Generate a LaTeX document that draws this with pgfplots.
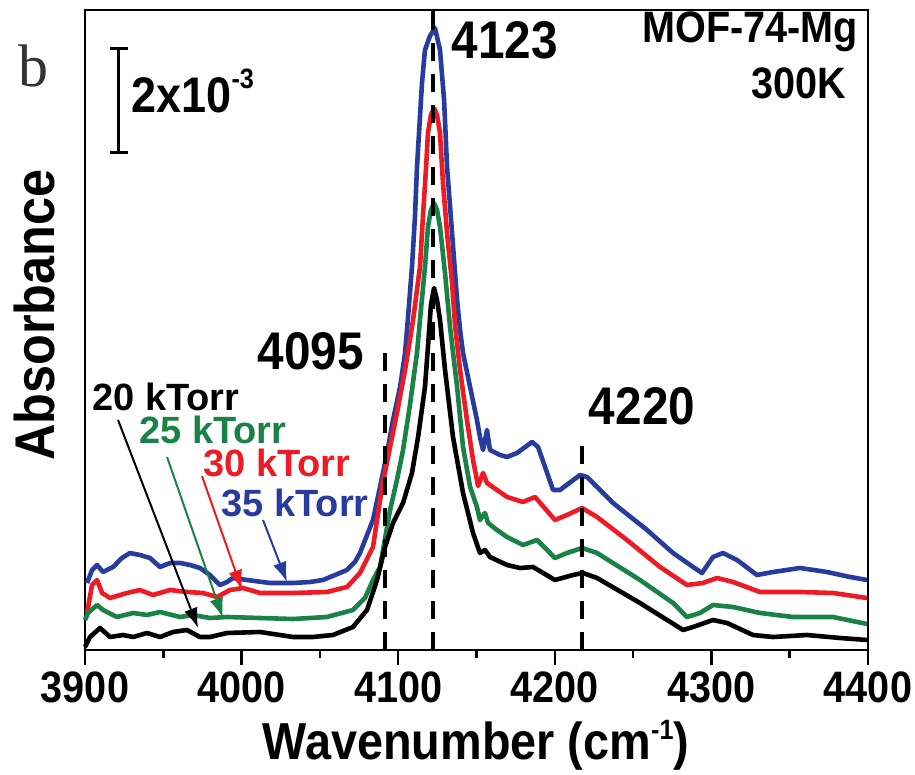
\documentclass[border=0pt]{standalone}
\usepackage{pgfplots}
\pgfplotsset{compat=1.18}
\usepackage{fontspec}
\setmainfont{Liberation Sans}
\newfontfamily\cond[FakeStretch=0.9]{Liberation Sans}
\newfontfamily\seriffont{Liberation Serif}
\usetikzlibrary{arrows.meta}
\definecolor{cblue}{RGB}{40,60,160}
\definecolor{cred}{RGB}{237,28,36}
\definecolor{cgreen}{RGB}{25,130,70}
\begin{document}
\begin{tikzpicture}
\useasboundingbox (-42.5pt,-62.5pt) rectangle (415pt,325pt);
\begin{axis}[
  at={(0,0)}, anchor=south west,
  scale only axis, width=391.5pt, height=320pt,
  xmin=3900, xmax=4400, ymin=0, ymax=640,
  xtick={3900,4000,...,4400}, minor x tick num=1,
  ytick=\empty,
  xtick pos=bottom,
  tick align=outside,
  major tick length=7.5pt, minor tick length=4pt,
  every tick/.style={line width=1.25pt, black},
  axis line style={line width=1.25pt},
  clip=false,
  /pgf/number format/assume math mode=true,
  /pgf/number format/1000 sep={},
  xticklabel style={font=\cond\bfseries\fontsize{22}{22}\selectfont, inner sep=0pt, anchor=north, yshift=-3pt},
  xlabel={Wavenumber (cm\raisebox{10pt}{\fontsize{14}{14}\selectfont -1})},
  xlabel style={font=\cond\bfseries\fontsize{26}{26}\selectfont, at={(axis cs:4149.7,-95)}, anchor=center},
  ylabel={Absorbance},
  ylabel style={font=\cond\bfseries\fontsize{28}{28}\selectfont, at={(axis cs:3868,335)}, anchor=center},
]
% 35 kTorr
\addplot[cblue, line width=2.3pt, line join=round] table {
3901.3 67
3904.5 80
3907.7 85
3911.5 78
3917.9 83
3923.6 92
3928.7 97
3935.1 95
3941.5 92
3947.9 83
3954.3 87
3960.7 87
3967.1 85
3973.4 82
3979.8 75
3986.2 65
3990.7 68
3994.5 72
4003.5 70
4018.1 67
4032.8 67
4043.7 68
4052.0 70
4059.7 75
4067.3 80
4072.4 88
4075.6 97
4083.9 130
4088.4 163
4092.9 197
4096.7 230
4101.2 263
4104.4 297
4106.3 333
4108.8 383
4110.7 433
4112.0 483
4113.9 533
4115.2 567
4117.1 600
4120.3 614
4123.5 622
4126.7 600
4129.3 550
4131.2 483
4134.4 417
4137.6 350
4139.5 320
4141.4 297
4145.9 263
4150.3 230
4152.2 213
4154.2 200
4156.7 220
4158.6 200
4165.0 195
4169.5 193
4175.9 197
4185.5 208
4189.3 203
4198.9 160
4203.3 160
4216.1 175
4220.6 173
4237.2 147
4258.9 120
4275.5 97
4288.3 83
4294.0 77
4301.0 93
4307.4 97
4316.4 90
4329.1 75
4339.4 78
4356.6 82
4373.8 78
4388.5 73
4399.4 70
};
% 30 kTorr
\addplot[cred, line width=2.3pt, line join=round] table {
3901.3 37
3904.5 65
3907.7 70
3910.9 57
3916.0 52
3926.8 57
3935.1 60
3943.4 55
3954.3 60
3965.1 58
3975.4 57
3984.3 53
3992.6 60
4000.9 62
4011.8 57
4032.8 57
4054.5 58
4067.3 63
4075.6 77
4083.9 103
4089.7 163
4094.8 203
4099.2 237
4104.4 280
4109.5 330
4113.9 383
4115.8 433
4117.8 483
4119.0 517
4120.9 535
4122.9 542
4124.8 535
4126.7 517
4128.6 467
4131.2 417
4134.4 367
4136.3 325
4139.5 280
4143.9 230
4147.8 190
4151.0 164
4154.2 177
4156.7 167
4163.1 160
4169.5 153
4179.7 148
4187.4 153
4200.1 130
4207.8 135
4217.4 142
4227.0 133
4246.1 110
4267.2 83
4284.4 65
4294.6 67
4303.6 72
4313.8 68
4331.1 58
4356.6 58
4377.7 57
4399.4 52
};
% 25 kTorr
\addplot[cgreen, line width=2.3pt, line join=round] table {
3900.0 30
3901.9 37
3907.7 45
3911.5 40
3920.4 33
3930.7 37
3939.6 35
3947.9 38
3960.7 33
3969.0 35
3979.8 32
3990.7 33
4011.8 32
4032.8 31
4054.5 33
4071.1 40
4078.8 52
4083.9 70
4088.4 83
4094.8 140
4099.2 170
4103.1 200
4107.5 245
4112.0 297
4113.9 330
4117.1 383
4119.0 423
4120.9 440
4122.9 447
4124.8 440
4126.7 423
4129.9 377
4133.1 323
4137.6 263
4141.4 203
4145.9 163
4150.3 143
4152.2 130
4155.4 137
4157.4 127
4163.1 120
4169.5 113
4179.7 105
4188.7 110
4200.1 92
4207.8 97
4217.4 102
4227.0 97
4254.4 70
4275.5 47
4284.4 33
4292.7 37
4301.0 45
4313.8 43
4331.1 37
4352.1 33
4377.7 33
4399.4 26
};
% 20 kTorr
\addplot[black, line width=2.3pt, line join=round] table {
3900.0 3
3903.2 13
3909.6 22
3916.0 13
3924.3 15
3930.7 13
3939.6 17
3947.9 13
3956.2 18
3965.1 20
3973.4 13
3979.8 13
3990.7 17
4011.8 18
4032.8 13
4045.6 13
4058.4 15
4071.1 23
4080.1 40
4086.5 70
4091.6 103
4096.7 127
4103.1 147
4108.8 177
4112.7 213
4117.1 263
4119.0 303
4120.9 345
4122.9 362
4124.8 350
4126.7 330
4129.9 280
4135.0 213
4141.4 157
4147.8 117
4152.2 97
4155.4 100
4158.6 93
4169.5 85
4177.8 82
4186.1 83
4200.1 70
4211.6 75
4218.0 77
4227.0 72
4254.4 47
4281.9 20
4288.3 23
4301.0 30
4310.0 27
4326.6 15
4339.4 13
4361.0 15
4382.1 12
4399.4 10
};
% dashed peak markers
\draw[black, line width=2.2pt, dash pattern=on 9pt off 6.5pt] (axis cs:4091.6,0) -- (axis cs:4091.6,297);
\draw[black, line width=2.2pt, dash pattern=on 9pt off 6.5pt] (axis cs:4122.3,0) -- (axis cs:4122.3,640);
\draw[black, line width=2pt] (axis cs:4122.3,622) -- (axis cs:4122.3,640);
\draw[black, line width=2.2pt, dash pattern=on 9pt off 6.5pt] (axis cs:4217.4,0) -- (axis cs:4217.4,212);
% peak labels
\node[font=\cond\bfseries\fontsize{26.5}{26.5}\selectfont] at (axis cs:4168.2,610) {4123};
\node[font=\cond\bfseries\fontsize{26.5}{26.5}\selectfont] at (axis cs:4044.3,299) {4095};
\node[font=\cond\bfseries\fontsize{26.5}{26.5}\selectfont] at (axis cs:4255.7,244) {4220};
\node[font=\cond\bfseries\fontsize{22}{22}\selectfont, anchor=east] at (axis cs:4398.1,618) {MOF-74-Mg};
\node[font=\cond\bfseries\fontsize{22}{22}\selectfont, anchor=east] at (axis cs:4390.4,567) {300K};
% scale bar
\draw[black, line width=1.5pt] (axis cs:3921.1,601) -- (axis cs:3921.1,497);
\draw[black, line width=1.5pt] (axis cs:3916,601) -- (axis cs:3927.5,601);
\draw[black, line width=1.5pt] (axis cs:3916,497) -- (axis cs:3927.5,497);
\node[font=\cond\bfseries\fontsize{25}{25}\selectfont, anchor=base west, inner sep=0pt] at (axis cs:3929.4,537) {2x10\raisebox{12pt}{\fontsize{14}{14}\selectfont -3}};
% panel letter
\node[font=\seriffont\fontsize{30}{30}\selectfont, text=black!80] at (axis cs:3867.4,584) {b};
% pressure labels
\node[font=\bfseries\fontsize{19}{19}\selectfont, text=black, inner sep=1pt] at (axis cs:3951.7,253) {20 kTorr};
\node[font=\bfseries\fontsize{19}{19}\selectfont, text=cgreen, inner sep=1pt] at (axis cs:3981.7,220) {25 kTorr};
\node[font=\bfseries\fontsize{19}{19}\selectfont, text=cred, inner sep=1pt] at (axis cs:4022.6,187) {30 kTorr};
\node[font=\bfseries\fontsize{19}{19}\selectfont, text=cblue, inner sep=1pt] at (axis cs:4034.1,147) {35 kTorr};
% arrows
\draw[black, line width=1pt, -{Latex[length=10pt,width=7pt]}] (axis cs:3921.1,230) -- (axis cs:3972.2,22);
\draw[cgreen, line width=1pt, -{Latex[length=10pt,width=7pt]}] (axis cs:3952.4,193) -- (axis cs:3988.1,32);
\draw[cred, line width=1pt, -{Latex[length=10pt,width=7pt]}] (axis cs:3974.7,174) -- (axis cs:4000.3,60);
\draw[cblue, line width=1pt, -{Latex[length=10pt,width=7pt]}] (axis cs:4013.7,130) -- (axis cs:4029.0,68);
\end{axis}
\end{tikzpicture}
\end{document}
